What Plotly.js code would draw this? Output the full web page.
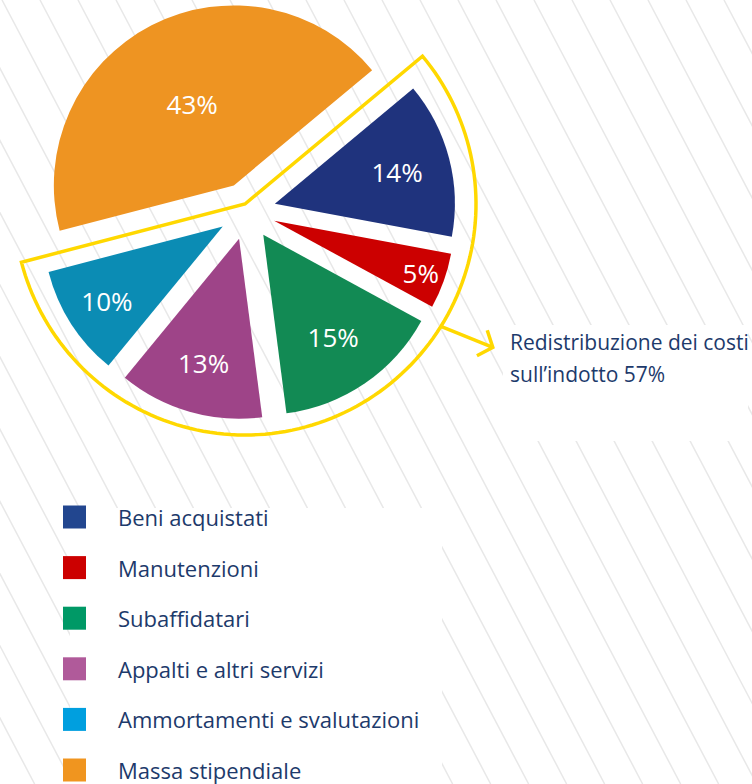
<!DOCTYPE html>
<html><head><meta charset="utf-8">
<script src="https://cdn.plot.ly/plotly-3.0.1.min.js"></script>
<style>html,body{margin:0;padding:0;background:#fff}</style>
</head><body><div id="chart" style="width:752px;height:784px"></div>
<script>
// ---- data ----
const categories = ['Beni acquistati','Manutenzioni','Subaffidatari','Appalti e altri servizi','Ammortamenti e svalutazioni','Massa stipendiale'];
const values = [14, 5, 15, 13, 10, 43];
const sliceColors = ['#1f337d','#cc0000','#128a54','#9e4488','#0b8cb4','#ee9422'];
const legendColors = ['#22468f','#cc0000','#009966','#b05a9a','#009fdf','#f0951f'];
const calloutLines = ['Redistribuzione dei costi', 'sull\u2019indotto'];
const calloutGroup = [0, 1, 2, 3, 4];

// ---- layout helpers ----
const W = 752, H = 784;
const px = x => x / W, py = y => 1 - y / H;
const navy = '#1d3a6b', yellow = '#ffd800', FONT = 'Open Sans';

const pieCx = 247, pieCy = 211, pieR = 180, pull = 0.16, rotation = 50.2;
const half = pieR * (1 + pull);
const domainX = [px(pieCx - half), px(pieCx + half)];
const domainY = [py(pieCy + half), py(pieCy - half)];

const total = values.reduce((a, b) => a + b, 0);
const groupTotal = calloutGroup.reduce((a, i) => a + values[i], 0);
const groupPct = Math.round(groupTotal / total * 100);

const shapes = [];
// background stripes
const slope = 1.9, spacing = 38, x0 = 2;
for (let k = -12; k <= 21; k++) {
  const xa = x0 + k * spacing;
  shapes.push({type:'line', xref:'paper', yref:'paper', layer:'below',
    x0: px(xa), y0: py(0), x1: px(xa + H / slope), y1: py(H),
    line:{color:'#e8e8e8', width:1.5}});
}
// white panels
shapes.push({type:'rect', xref:'paper', yref:'paper', layer:'below',
  x0: px(70), x1: px(442), y0: py(784), y1: py(508), fillcolor:'#fff', line:{width:0}});
shapes.push({type:'rect', xref:'paper', yref:'paper', layer:'below',
  x0: px(503), x1: px(748), y0: py(441), y1: py(325), fillcolor:'#fff', line:{width:0}});

// yellow outline around the group sector
const vx = 245, vy = 204, R = 231;
const a0 = rotation, a1 = rotation + groupTotal / total * 360; // clockwise from 12 o'clock
const pt = (deg, r) => [vx + r * Math.sin(deg * Math.PI / 180), vy - r * Math.cos(deg * Math.PI / 180)];
let path = `M${px(vx)},${py(vy)}`;
for (let i = 0; i <= 120; i++) {
  const [x, y] = pt(a0 + (a1 - a0) * i / 120, R);
  path += ` L${px(x)},${py(y)}`;
}
path += ' Z';
shapes.push({type:'path', xref:'paper', yref:'paper', path, line:{color:yellow, width:3.5}, fillcolor:'rgba(0,0,0,0)'});

// arrow from the outline to the callout text
const [sx, sy] = pt(122, R);
const dir = [0.927, 0.374];
const tx = sx + 56 * dir[0], ty = sy + 56 * dir[1];
shapes.push({type:'line', xref:'paper', yref:'paper', x0:px(sx), y0:py(sy), x1:px(tx), y1:py(ty), line:{color:yellow, width:3.5}});
const rot = (v, deg) => { const c = Math.cos(deg*Math.PI/180), s = Math.sin(deg*Math.PI/180); return [v[0]*c - v[1]*s, v[0]*s + v[1]*c]; };
const back = [-dir[0], -dir[1]];
const arm1 = rot(back, 50), arm2 = rot(back, -50);
shapes.push({type:'path', xref:'paper', yref:'paper',
  path:`M${px(tx+18*arm1[0])},${py(ty+18*arm1[1])} L${px(tx)},${py(ty)} L${px(tx+18*arm2[0])},${py(ty+18*arm2[1])}`,
  line:{color:yellow, width:3.5}});

// legend
const annotations = [];
categories.forEach((c, i) => {
  const yc = 517 + 50.6 * i;
  shapes.push({type:'rect', xref:'paper', yref:'paper', x0:px(63), x1:px(86), y0:py(yc + 11.5), y1:py(yc - 11.5),
    fillcolor: legendColors[i], line:{width:0}});
  annotations.push({xref:'paper', yref:'paper', x:px(116), y:py(yc), xanchor:'left', yanchor:'middle',
    text:c, showarrow:false, font:{family:FONT, size:22, color:navy}});
});
// callout text
annotations.push({xref:'paper', yref:'paper', x:px(508), y:py(342), xanchor:'left', yanchor:'middle',
  text:calloutLines[0], showarrow:false, font:{family:FONT, size:21, color:navy}});
annotations.push({xref:'paper', yref:'paper', x:px(508), y:py(374), xanchor:'left', yanchor:'middle',
  text:calloutLines[1] + ' ' + groupPct + '%', showarrow:false, font:{family:FONT, size:21, color:navy}});

const trace = {
  type:'pie', labels:categories, values:values, sort:false, direction:'clockwise', rotation:rotation,
  pull: categories.map(() => pull),
  marker:{colors:sliceColors, line:{width:0}},
  texttemplate:'%{value}%', textposition:'inside', insidetextorientation:'horizontal',
  textfont:{family:FONT, size:26, color:'#ffffff'},
  domain:{x:domainX, y:domainY}, showlegend:false, hoverinfo:'label+percent'
};

Plotly.newPlot('chart', [trace], {
  width:W, height:H, margin:{l:0, r:0, t:0, b:0},
  paper_bgcolor:'#ffffff', plot_bgcolor:'#ffffff', showlegend:false,
  uniformtext:{mode:'show', minsize:26},
  shapes:shapes, annotations:annotations
}, {displayModeBar:false, staticPlot:true});
</script></body></html>
